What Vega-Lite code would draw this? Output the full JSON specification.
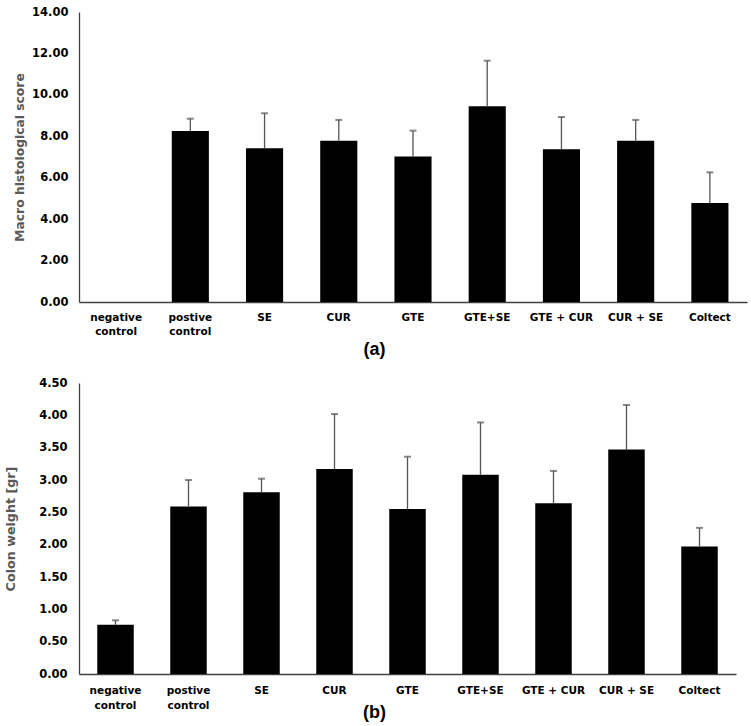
{
  "$schema": "https://vega.github.io/schema/vega-lite/v6.json",
  "padding": {"left": 4, "top": 6, "right": 4, "bottom": 2},
  "background": "white",
  "spacing": 19,
  "config": {
    "view": {"stroke": null},
    "axis": {
      "grid": false,
      "ticks": false,
      "domainColor": "#404040",
      "domainWidth": 1.3,
      "labelFont": "DejaVu Sans",
      "labelFontWeight": "bold",
      "labelColor": "#000000"
    }
  },
  "datasets": {
    "a": [
      {"group": "negative control", "value": 0, "upper": null},
      {"group": "postive control", "value": 8.26, "upper": 8.85},
      {"group": "SE", "value": 7.42, "upper": 9.11},
      {"group": "CUR", "value": 7.79, "upper": 8.79},
      {"group": "GTE", "value": 7.02, "upper": 8.27},
      {"group": "GTE+SE", "value": 9.45, "upper": 11.65},
      {"group": "GTE + CUR", "value": 7.37, "upper": 8.93},
      {"group": "CUR + SE", "value": 7.79, "upper": 8.79},
      {"group": "Coltect", "value": 4.78, "upper": 6.26}
    ],
    "b": [
      {"group": "negative control", "value": 0.76, "upper": 0.83},
      {"group": "postive control", "value": 2.59, "upper": 3.0},
      {"group": "SE", "value": 2.81, "upper": 3.02},
      {"group": "CUR", "value": 3.17, "upper": 4.02},
      {"group": "GTE", "value": 2.55, "upper": 3.36},
      {"group": "GTE+SE", "value": 3.08, "upper": 3.89},
      {"group": "GTE + CUR", "value": 2.64, "upper": 3.14},
      {"group": "CUR + SE", "value": 3.47, "upper": 4.16},
      {"group": "Coltect", "value": 1.97, "upper": 2.26}
    ]
  },
  "vconcat": [
    {
      "width": 668,
      "height": 290,
      "data": {"name": "a"},
      "encoding": {
        "x": {
          "field": "group", "type": "nominal", "sort": null,
          "scale": {"paddingInner": 0.5, "paddingOuter": 0.25},
          "axis": {
            "labelAngle": 0, "labelPadding": 10, "labelFontSize": 10.5, "labelLineHeight": 14.5,
            "labelExpr": "indexof(datum.label, 'control') >= 0 ? split(datum.label, ' ') : datum.label",
            "title": "(a)", "titleFont": "Liberation Sans", "titleFontSize": 18, "titleFontWeight": "bold",
            "titleColor": "#000000", "titlePadding": 3, "titleX": 295
          }
        }
      },
      "layer": [
        {
          "mark": {"type": "bar", "color": "#000000"},
          "encoding": {
            "y": {
              "field": "value", "type": "quantitative", "title": "Macro histological score",
              "scale": {"domain": [0, 14], "nice": false},
              "axis": {
                "values": [0, 2, 4, 6, 8, 10, 12, 14], "format": ".2f",
                "labelFontSize": 11.5, "labelPadding": 11,
                "titleColor": "#595959", "titleFont": "DejaVu Sans", "titleFontSize": 12.3,
                "titleFontWeight": "bold", "titlePadding": 5
              }
            }
          }
        },
        {
          "transform": [{"filter": "datum.upper != null"}],
          "mark": {"type": "rule", "color": "#555555", "strokeWidth": 1.3},
          "encoding": {
            "y": {
              "field": "value", "type": "quantitative", "title": "Macro histological score",
              "axis": {
                "values": [0, 2, 4, 6, 8, 10, 12, 14], "format": ".2f",
                "labelFontSize": 11.5, "labelPadding": 11,
                "titleColor": "#595959", "titleFont": "DejaVu Sans", "titleFontSize": 12.3,
                "titleFontWeight": "bold", "titlePadding": 5
              }
            },
            "y2": {"field": "upper"}
          }
        },
        {
          "transform": [{"filter": "datum.upper != null"}],
          "mark": {"type": "tick", "color": "#555555", "thickness": 2, "size": 7},
          "encoding": {
            "y": {
              "field": "upper", "type": "quantitative", "title": "Macro histological score",
              "axis": {
                "values": [0, 2, 4, 6, 8, 10, 12, 14], "format": ".2f",
                "labelFontSize": 11.5, "labelPadding": 11,
                "titleColor": "#595959", "titleFont": "DejaVu Sans", "titleFontSize": 12.3,
                "titleFontWeight": "bold", "titlePadding": 5
              }
            }
          }
        }
      ]
    },
    {
      "width": 657,
      "height": 291,
      "data": {"name": "b"},
      "encoding": {
        "x": {
          "field": "group", "type": "nominal", "sort": null,
          "scale": {"paddingInner": 0.5, "paddingOuter": 0.25},
          "axis": {
            "labelAngle": 0, "labelPadding": 11.5, "labelFontSize": 10.5, "labelLineHeight": 14.5,
            "labelExpr": "indexof(datum.label, 'control') >= 0 ? split(datum.label, ' ') : datum.label",
            "title": "(b)", "titleFont": "Liberation Sans", "titleFontSize": 18, "titleFontWeight": "bold",
            "titleColor": "#000000", "titlePadding": -7, "titleX": 295
          }
        }
      },
      "layer": [
        {
          "mark": {"type": "bar", "color": "#000000"},
          "encoding": {
            "y": {
              "field": "value", "type": "quantitative", "title": "Colon weight [gr]",
              "scale": {"domain": [0, 4.5], "nice": false},
              "axis": {
                "values": [0, 0.5, 1, 1.5, 2, 2.5, 3, 3.5, 4, 4.5], "format": ".2f",
                "labelFontSize": 11.5, "labelPadding": 12,
                "titleColor": "#595959", "titleFont": "DejaVu Sans", "titleFontSize": 12.7,
                "titleFontWeight": "bold", "titlePadding": 21
              }
            }
          }
        },
        {
          "mark": {"type": "rule", "color": "#555555", "strokeWidth": 1.3},
          "encoding": {
            "y": {
              "field": "value", "type": "quantitative", "title": "Colon weight [gr]",
              "axis": {
                "values": [0, 0.5, 1, 1.5, 2, 2.5, 3, 3.5, 4, 4.5], "format": ".2f",
                "labelFontSize": 11.5, "labelPadding": 12,
                "titleColor": "#595959", "titleFont": "DejaVu Sans", "titleFontSize": 12.7,
                "titleFontWeight": "bold", "titlePadding": 21
              }
            },
            "y2": {"field": "upper"}
          }
        },
        {
          "mark": {"type": "tick", "color": "#555555", "thickness": 2, "size": 7},
          "encoding": {
            "y": {
              "field": "upper", "type": "quantitative", "title": "Colon weight [gr]",
              "axis": {
                "values": [0, 0.5, 1, 1.5, 2, 2.5, 3, 3.5, 4, 4.5], "format": ".2f",
                "labelFontSize": 11.5, "labelPadding": 12,
                "titleColor": "#595959", "titleFont": "DejaVu Sans", "titleFontSize": 12.7,
                "titleFontWeight": "bold", "titlePadding": 21
              }
            }
          }
        }
      ]
    }
  ]
}
